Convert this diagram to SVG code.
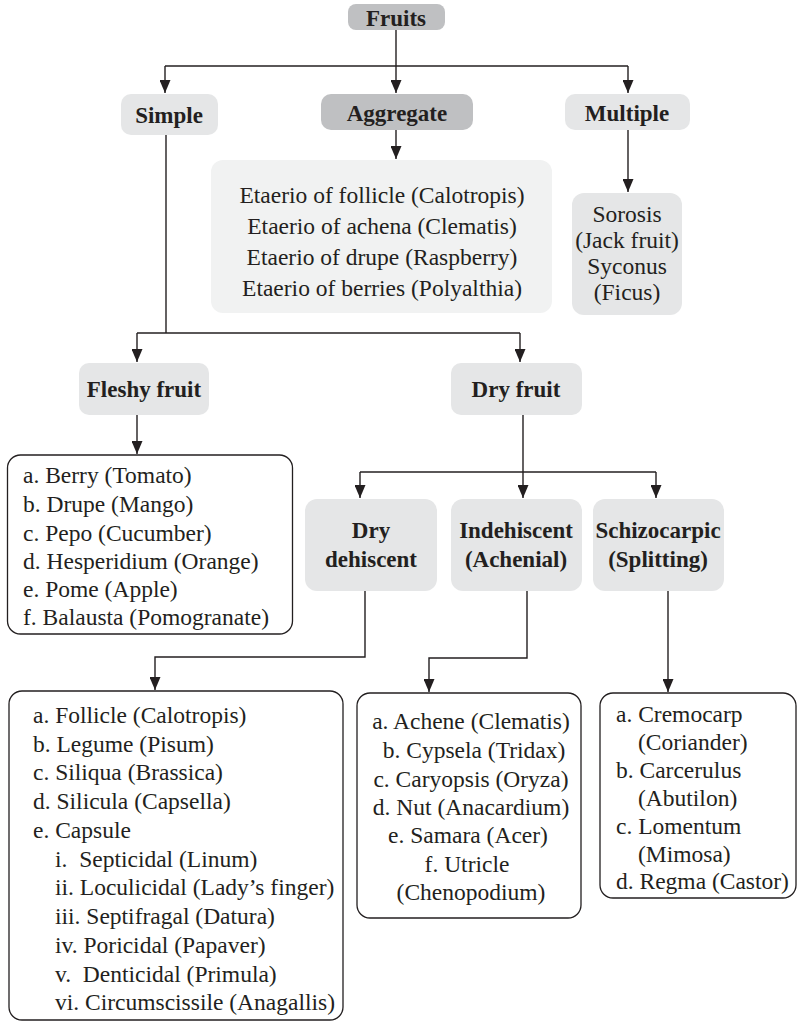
<svg xmlns="http://www.w3.org/2000/svg" width="797" height="1021" viewBox="0 0 797 1021">
<defs>
<marker id="ah" markerUnits="userSpaceOnUse" viewBox="0 0 13 11" refX="13" refY="5.5" markerWidth="13" markerHeight="11" orient="auto">
<path d="M0,0 L13,5.5 L0,11 z" fill="#231f20"/>
</marker>
<style>
.hd{fill:#e5e6e7}
.dk{fill:#bfc0c2}
.lt{fill:#f1f2f2}
.lb{fill:#ffffff;stroke:#231f20;stroke-width:1.3}
.b{font-family:"Liberation Serif",serif;font-weight:bold;font-size:23px;fill:#231f20;text-anchor:middle}
.t{font-family:"Liberation Serif",serif;font-size:23.5px;fill:#231f20;white-space:pre}
.c{text-anchor:middle}
.ln{fill:none;stroke:#231f20;stroke-width:1.4}
.ar{marker-end:url(#ah)}
</style>
</defs>
<rect width="797" height="1021" fill="#ffffff"/>
<g id="connectors">
<path class="ln ar" d="M396,30 V93"/>
<path class="ln" d="M165,66 H628"/>
<path class="ln ar" d="M165,66 V93"/>
<path class="ln ar" d="M628,66 V93"/>
<path class="ln ar" d="M396,130 V159"/>
<path class="ln ar" d="M628,130 V192"/>
<path class="ln" d="M166,135 V333"/>
<path class="ln" d="M137,333 H520"/>
<path class="ln ar" d="M137,333 V362"/>
<path class="ln ar" d="M520,333 V362"/>
<path class="ln ar" d="M137,415 V454"/>
<path class="ln" d="M523,415 V472"/>
<path class="ln" d="M360,472 H656"/>
<path class="ln ar" d="M360,472 V498"/>
<path class="ln ar" d="M523,472 V498"/>
<path class="ln ar" d="M656,472 V498"/>
<path class="ln ar" d="M365,591 V657 H155 V690"/>
<path class="ln ar" d="M527,591 V658 H429 V692"/>
<path class="ln ar" d="M668,591 V692"/>
</g>
<g id="fruits">
<rect class="dk" x="348" y="4" width="97" height="26" rx="8"/>
<text class="b" x="396" y="26">Fruits</text>
</g>
<g id="simple">
<rect class="hd" x="121" y="94" width="97" height="41" rx="10"/>
<text class="b" x="169" y="123">Simple</text>
</g>
<g id="aggregate">
<rect class="dk" x="321" y="94" width="152" height="36" rx="10"/>
<text class="b" x="397" y="121">Aggregate</text>
</g>
<g id="multiple">
<rect class="hd" x="565" y="94" width="125" height="36" rx="10"/>
<text class="b" x="627" y="121">Multiple</text>
</g>
<g id="aggregate-list">
<rect class="lt" x="211" y="160" width="341" height="153" rx="12"/>
<text class="t c" x="382" y="203">Etaerio of follicle (Calotropis)</text>
<text class="t c" x="382" y="234">Etaerio of achena (Clematis)</text>
<text class="t c" x="382" y="265">Etaerio of drupe (Raspberry)</text>
<text class="t c" x="382" y="296">Etaerio of berries (Polyalthia)</text>
</g>
<g id="multiple-list">
<rect class="hd" x="572" y="193" width="110" height="122" rx="12"/>
<text class="t c" x="627" y="222">Sorosis</text>
<text class="t c" x="627" y="248">(Jack fruit)</text>
<text class="t c" x="627" y="274">Syconus</text>
<text class="t c" x="627" y="300">(Ficus)</text>
</g>
<g id="fleshy">
<rect class="hd" x="79" y="363" width="130" height="52" rx="10"/>
<text class="b" x="144" y="397">Fleshy fruit</text>
</g>
<g id="dry">
<rect class="hd" x="451" y="363" width="131" height="52" rx="10"/>
<text class="b" x="516" y="397">Dry fruit</text>
</g>
<g id="fleshy-list">
<rect class="lb" x="7.5" y="455" width="285" height="179" rx="13"/>
<text class="t" x="23" y="483">a. Berry (Tomato)</text>
<text class="t" x="23" y="512">b. Drupe (Mango)</text>
<text class="t" x="23" y="541">c. Pepo (Cucumber)</text>
<text class="t" x="23" y="569">d. Hesperidium (Orange)</text>
<text class="t" x="23" y="597">e. Pome (Apple)</text>
<text class="t" x="23" y="625">f. Balausta (Pomogranate)</text>
</g>
<g id="dry-dehiscent">
<rect class="hd" x="305" y="499" width="132" height="92" rx="12"/>
<text class="b" x="371" y="538">Dry</text>
<text class="b" x="371" y="567">dehiscent</text>
</g>
<g id="indehiscent">
<rect class="hd" x="451" y="499" width="131" height="92" rx="12"/>
<text class="b" x="516" y="538">Indehiscent</text>
<text class="b" x="516" y="567">(Achenial)</text>
</g>
<g id="schizocarpic">
<rect class="hd" x="593" y="499" width="131" height="92" rx="12"/>
<text class="b" x="658" y="538">Schizocarpic</text>
<text class="b" x="658" y="567">(Splitting)</text>
</g>
<g id="dehiscent-list">
<rect class="lb" x="9" y="691" width="334" height="329" rx="13"/>
<text class="t" x="33" y="723">a. Follicle (Calotropis)</text>
<text class="t" x="33" y="752">b. Legume (Pisum)</text>
<text class="t" x="33" y="780">c. Siliqua (Brassica)</text>
<text class="t" x="33" y="809">d. Silicula (Capsella)</text>
<text class="t" x="33" y="838">e. Capsule</text>
<text class="t" x="55" y="867">i.  Septicidal (Linum)</text>
<text class="t" x="55" y="895">ii. Loculicidal (Lady’s finger)</text>
<text class="t" x="55" y="924">iii. Septifragal (Datura)</text>
<text class="t" x="55" y="953">iv. Poricidal (Papaver)</text>
<text class="t" x="55" y="982">v.  Denticidal (Primula)</text>
<text class="t" x="55" y="1010">vi. Circumscissile (Anagallis)</text>
</g>
<g id="indehiscent-list">
<rect class="lb" x="357" y="693" width="224" height="225" rx="13"/>
<text class="t c" x="471" y="729">a. Achene (Clematis)</text>
<text class="t c" x="474" y="758">b. Cypsela (Tridax)</text>
<text class="t c" x="471" y="787">c. Caryopsis (Oryza)</text>
<text class="t c" x="471" y="815">d. Nut (Anacardium)</text>
<text class="t c" x="468" y="843">e. Samara (Acer)</text>
<text class="t c" x="467" y="872">f. Utricle</text>
<text class="t c" x="471" y="900">(Chenopodium)</text>
</g>
<g id="schizocarpic-list">
<rect class="lb" x="600" y="693" width="196" height="205" rx="13"/>
<text class="t" x="616" y="722">a. Cremocarp</text>
<text class="t" x="638" y="750">(Coriander)</text>
<text class="t" x="616" y="778">b. Carcerulus</text>
<text class="t" x="638" y="806">(Abutilon)</text>
<text class="t" x="616" y="834">c. Lomentum</text>
<text class="t" x="638" y="862">(Mimosa)</text>
<text class="t" x="616" y="889">d. Regma (Castor)</text>
</g>
</svg>
